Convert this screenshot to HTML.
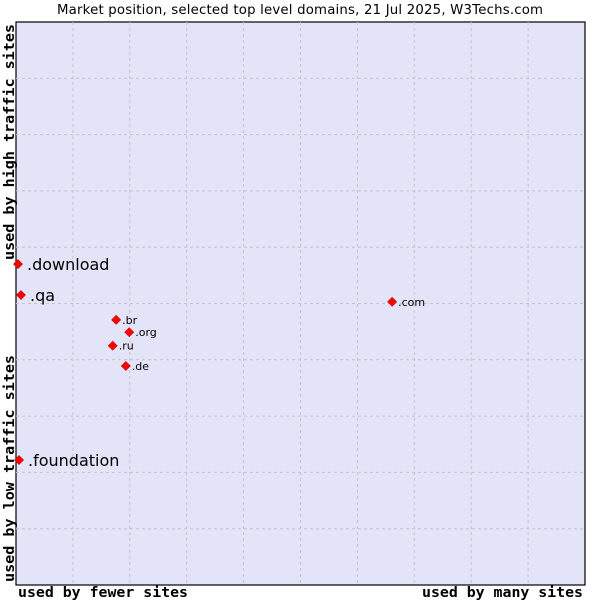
<!DOCTYPE html>
<html><head><meta charset="utf-8"><style>
body{margin:0;background:#fff;width:600px;height:600px;overflow:hidden}
svg{display:block}
text{font-family:"DejaVu Sans","Liberation Sans",sans-serif}
.mono{font-family:"DejaVu Sans Mono","Liberation Mono",monospace;font-weight:bold}
</style></head><body>
<svg id="c" width="600" height="600">
<text x="300" y="14" text-anchor="middle" font-size="13.3" fill="#000" textLength="486">Market position, selected top level domains, 21 Jul 2025, W3Techs.com</text>
<rect x="16" y="22" width="569" height="563" fill="#e4e4f8" stroke="#000" stroke-width="1.2"/>
<g id="grid"></g>
<g id="pts"></g>
<text class="mono" x="18" y="597" font-size="14.5" textLength="170" lengthAdjust="spacingAndGlyphs">used by fewer sites</text>
<text class="mono" x="422" y="597" font-size="14.5" textLength="161" lengthAdjust="spacingAndGlyphs">used by many sites</text>
<text class="mono" transform="translate(14,260) rotate(-90)" font-size="14.5" textLength="236" lengthAdjust="spacingAndGlyphs">used by high traffic sites</text>
<text class="mono" transform="translate(14,582) rotate(-90)" font-size="14.5" textLength="227" lengthAdjust="spacingAndGlyphs">used by low traffic sites</text>
</svg>
<script>
const names=[".download",".qa",".br",".org",".ru",".de",".com",".foundation"];
const xs=[0.35,0.88,17.6,19.9,17.0,19.3,66.1,0.53];
const ys=[57.0,51.5,47.1,44.9,42.5,38.9,50.3,22.2];
const big=[true,true,false,false,false,false,false,true];
const L=16,T=22,W=569,H=563;
const sx=v=>L+v/100*W, sy=v=>T+H-v/100*H;
const NS="http://www.w3.org/2000/svg";
const g=document.getElementById('grid');
for(let i=1;i<10;i++){
 const x=sx(i*10),y=sy(i*10);
 const a=document.createElementNS(NS,'line');
 
 
 a.setAttribute('x1',x);a.setAttribute('x2',x);a.setAttribute('y1',T);a.setAttribute('y2',T+H);
 a.setAttribute('stroke','#c4c4cc');a.setAttribute('stroke-dasharray','3,3');g.appendChild(a);
 const b=document.createElementNS(NS,'line');
 
 
 b.setAttribute('x1',L);b.setAttribute('x2',L+W);b.setAttribute('y1',y);b.setAttribute('y2',y);
 b.setAttribute('stroke','#c4c4cc');b.setAttribute('stroke-dasharray','3,3');g.appendChild(b);
}
const p=document.getElementById('pts');
names.forEach((n,i)=>{
 const x=sx(xs[i]),y=sy(ys[i]);
 const d=document.createElementNS(NS,'polygon');
 
 
 d.setAttribute('points',`${x},${y-4.5} ${x+4.5},${y} ${x},${y+4.5} ${x-4.5},${y}`);
 d.setAttribute('fill','#f00');d.setAttribute('stroke','#c00');d.setAttribute('stroke-width','0.6');
 p.appendChild(d);
 const t=document.createElementNS(NS,'text');
 
 
 t.setAttribute('x',x+(big[i]?9:6));t.setAttribute('y',y+(big[i]?6:4));
 t.setAttribute('font-size',big[i]?'16':'11');t.textContent=n;p.appendChild(t);
});
</script>
</body></html>
